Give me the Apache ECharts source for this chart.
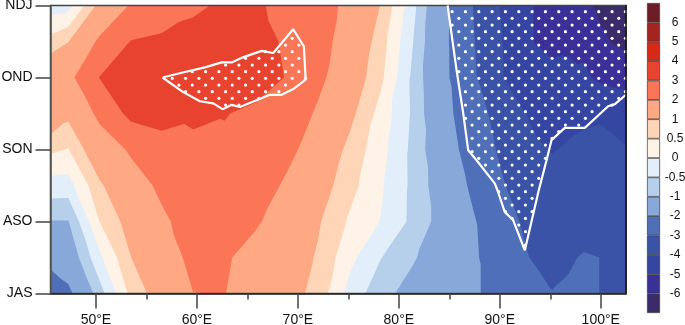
<!DOCTYPE html>
<html>
<head>
<meta charset="utf-8">
<style>html,body{margin:0;padding:0;background:#fff}#c{width:685px;height:325px}</style>
<script src="https://cdn.jsdelivr.net/npm/echarts@6/dist/echarts.min.js"></script>
</head>
<body>
<div id="c"></div>
<script>
// Data grid: longitude columns, season rows (t: 0=JAS ... 4=NDJ, half-steps between)
var lons = [45.5,47.26,50.35,53.45,56.54,59.63,62.73,65.82,68.92,72.01,75.1,78.2,81.29,84.39,87.48,90.57,93.67,95.21,96.76,98.32,99.85,102.5];
var rowT = [4,3.5,3,2.5,2,1.5,1,0.5,0];
var r40 = [-.25,-.2,1.17,2.07,2.35,2.83,3.15,3.1,2.79,2.35,1.8,.98,-.29,-1.76,-3.06,-4.23,-5.08,-5.3,-5.5,-5.75,-6.15,-6.7];
var r35 = [.72,.98,2.15,3.03,3.2,3.35,3.45,3.4,2.85,2.3,1.65,.74,-.44,-1.78,-2.98,-4.1,-5.09,-5.35,-5.25,-5.2,-5.8,-6.3];
var r30 = [1.55,1.75,3.02,3.35,3.6,3.65,3.65,3.5,2.95,2.2,1.44,.62,-.57,-1.77,-2.91,-4.05,-4.45,-4.6,-4.65,-4.85,-5.15,-5.3];
var r25 = [1.55,1.15,2.2,3.26,3.55,3.24,3.05,2.78,2.55,1.88,1.17,.32,-.55,-1.7,-2.62,-3.47,-4.3,-4.45,-4.3,-4.15,-4.1,-4.45];
var r20 = [.6,.48,1.52,2.1,2.4,2.7,2.8,2.7,2.25,1.55,.86,.18,-.6,-1.54,-2.45,-3.25,-3.85,-4.05,-3.9,-3.82,-3.75,-3.95];
var r15 = [-.2,-.22,.9,1.65,2.15,2.55,2.75,2.5,1.85,1.3,.68,.07,-.59,-1.37,-2.19,-3.0,-3.5,-3.62,-3.65,-3.62,-3.6,-3.7];
var r10 = [-1.02,-1.02,.5,1.25,1.88,2.3,2.55,2.1,1.58,1.06,.43,-.02,-.6,-1.25,-1.95,-2.72,-3.35,-3.5,-3.5,-3.45,-3.4,-3.5];
var r05 = [-1.7,-1.45,-.12,.99,1.6,2.2,2.1,1.7,1.34,.94,.15,-.48,-.92,-1.4,-1.91,-2.5,-3.16,-3.3,-3.12,-2.92,-3.0,-3.2];
var r00 = [-2.6,-2.2,-.72,.62,1.35,1.995,2.02,1.62,1.27,.8,-.18,-.81,-1.22,-1.56,-1.91,-2.35,-2.6,-2.97,-2.87,-2.85,-3.0,-3.2];
var rows = [r40,r35,r30,r25,r20,r15,r10,r05,r00];

var timeLabels = ['JAS','ASO','SON','OND','NDJ'];
var lonMajor = [50,60,70,80,90,100];
var lonMinor = [55,65,75,85,95];
var levels = [-6,-5,-4,-3,-2,-1,-0.5,0,0.5,1,2,3,4,5,6];
var levelColors = ['#3a2c6a','#3b2f98','#3445a2','#3a53a6','#4f6fb8','#87a8d8','#b6d0ec','#e2effa','#fff3e7','#fed6b7','#fea884','#fb7557','#e8432e','#d62a17','#a2261f','#6e1c28'];

// Significance outlines [lon, t]
var sigLeft = [[56.6,3.0],[58.6,3.07],[60.8,3.14],[62.45,3.21],[63.44,3.21],[64.56,3.28],[66.41,3.37],[67.56,3.34],[69.54,3.67],[70.6,3.43],[70.77,2.97],[69.54,2.84],[68.39,2.76],[67.23,2.76],[64.26,2.59],[63.44,2.62],[62.55,2.56],[61.62,2.64],[60.3,2.67],[58.6,2.8],[56.6,3.0]];
var sigRight = [[84.83,4],[85.72,3.1],[86.37,2.51],[86.87,1.99],[87.7,1.85],[89.5,1.53],[89.83,1.41],[90.5,1.13],[91.32,1.02],[92.48,0.6],[93.8,1.4],[94.63,1.85],[95.12,2.13],[96.44,2.3],[98.42,2.3],[100.73,2.6],[101.4,2.63],[102.5,2.76]];
var sigRightCorner = [[102.6,2.76],[102.6,4.1],[84.83,4.1]];

// Stipple pattern spacing (fill pattern of the significant areas)
var stipLon0 = 85.28, stipDLon = 1.32, stipT0 = 3.914, stipDT = 0.0926;

function inPoly(p, poly){
  var c=false;
  for(var i=0,j=poly.length-1;i<poly.length;j=i++){
    var a=poly[i],b=poly[j];
    if((a[1]>p[1])!==(b[1]>p[1]) && p[0]<(b[0]-a[0])*(p[1]-a[1])/(b[1]-a[1])+a[0]) c=!c;
  }
  return c;
}
var stipple=[];
var polyR = sigRight.concat(sigRightCorner);
for(var n=0;n<70;n++){
  var t=stipT0-n*stipDT;
  for(var m=-40;m<30;m++){
    var lon=stipLon0+m*stipDLon+(n%2?stipDLon/2:0);
    var p=[lon,t];
    if(lon<=102.6 && (inPoly(p,sigLeft)||inPoly(p,polyR))) stipple.push(p);
  }
}

function clipTri(tri, L){
  var out=[];
  for(var i=0;i<tri.length;i++){
    var a=tri[i],b=tri[(i+1)%tri.length];
    var ai=a[2]>=L,bi=b[2]>=L;
    if(ai) out.push(a);
    if(ai!==bi){
      var f=(L-a[2])/(b[2]-a[2]);
      out.push([a[0]+(b[0]-a[0])*f,a[1]+(b[1]-a[1])*f,L]);
    }
  }
  return out;
}
function bandPath(api, L){
  var d=[];
  function add(tri){
    var poly=clipTri(tri,L);
    if(poly.length<3) return;
    d.push('M'+poly.map(function(q){return q[0].toFixed(2)+' '+q[1].toFixed(2);}).join('L')+'Z');
  }
  for(var r=0;r<rows.length-1;r++){
    for(var c=0;c<lons.length-1;c++){
      var A=api.coord([lons[c],rowT[r]]),B=api.coord([lons[c+1],rowT[r]]),
          C=api.coord([lons[c+1],rowT[r+1]]),D=api.coord([lons[c],rowT[r+1]]);
      var a=[A[0],A[1],rows[r][c]],b=[B[0],B[1],rows[r][c+1]],cc=[C[0],C[1],rows[r+1][c+1]],dd=[D[0],D[1],rows[r+1][c]];
      if(Math.abs(a[2]-cc[2])<=Math.abs(b[2]-dd[2])){ add([a,b,cc]);add([a,cc,dd]); }
      else { add([a,b,dd]);add([b,cc,dd]); }
    }
  }
  return d.join('');
}
var series=[{
  type:'custom',xAxisIndex:0,yAxisIndex:0,z:1,silent:true,clip:true,animation:false,
  data:levelColors.map(function(c,i){return [i];}),
  encode:{x:-1,y:-1},
  renderItem:function(params,api){
    var i=params.dataIndex;
    var L=i===0?-Infinity:levels[i-1];
    return {type:'path',shape:{pathData:bandPath(api,L)},style:{fill:levelColors[i]},z2:i};
  }
},{
  type:'line',xAxisIndex:0,yAxisIndex:0,z:3,data:sigLeft,showSymbol:false,silent:true,animation:false,clip:true,
  lineStyle:{color:'#fff',width:2.2}
},{
  type:'line',xAxisIndex:0,yAxisIndex:0,z:3,data:sigRight,showSymbol:false,silent:true,animation:false,clip:true,
  lineStyle:{color:'#fff',width:2.2}
},{
  type:'scatter',xAxisIndex:0,yAxisIndex:0,z:4,data:stipple,symbolSize:3.2,silent:true,animation:false,clip:true,
  itemStyle:{color:'#fff',opacity:1}
}];
levelColors.forEach(function(c){
  series.push({type:'bar',xAxisIndex:2,yAxisIndex:2,stack:'cb',data:[1],barWidth:'100%',silent:true,animation:false,
    itemStyle:{color:c,borderColor:'#3a3a3a',borderWidth:0.7}});
});
var txt={color:'#111',fontFamily:'Liberation Sans',fontSize:14};
var chart=echarts.init(document.getElementById('c'),null,{renderer:'canvas'});
chart.setOption({
  animation:false,
  grid:[
    {left:50.5,top:5.5,width:575.5,height:288,outerBoundsMode:'none',show:true,backgroundColor:'transparent',borderColor:'#444',borderWidth:1.5,z:3},
    {left:647,top:3,width:13,height:310,outerBoundsMode:'none'}
  ],
  xAxis:[
    {type:'value',gridIndex:0,min:45.5,max:102.5,position:'bottom',z:5,splitLine:{show:false},
      axisLine:{show:true,lineStyle:{color:'#222',width:1.5}},
      axisTick:{show:true,length:15,customValues:lonMajor,lineStyle:{color:'#444',width:1.5}},
      axisLabel:{margin:20,customValues:lonMajor,formatter:function(v){return v+'°E';},color:txt.color,fontFamily:txt.fontFamily,fontSize:txt.fontSize}},
    {type:'value',gridIndex:0,min:45.5,max:102.5,position:'top',offset:-288,z:5,splitLine:{show:false},
      axisLine:{show:false},
      axisTick:{show:true,inside:true,length:6,customValues:lonMinor,lineStyle:{color:'#444',width:1.5}},
      axisLabel:{show:false}},
    {type:'category',gridIndex:1,data:['c'],show:false}
  ],
  yAxis:[
    {type:'value',gridIndex:0,min:0,max:4,interval:1,position:'left',z:5,splitLine:{show:false},
      axisLine:{show:true,lineStyle:{color:'#555',width:1.5}},
      axisTick:{show:true,length:15,lineStyle:{color:'#444',width:1.5}},
      axisLabel:{margin:18,formatter:function(v){return timeLabels[v];},color:txt.color,fontFamily:txt.fontFamily,fontSize:txt.fontSize}},
    {type:'value',gridIndex:0,min:0,max:4,position:'right',z:5,splitLine:{show:false},
      axisLine:{show:true,lineStyle:{color:'#111',width:1.5}},axisTick:{show:false},axisLabel:{show:false}},
    {type:'value',gridIndex:1,min:0,max:16,interval:1,position:'right',splitLine:{show:false},
      axisLine:{show:false},axisTick:{show:false},
      axisLabel:{margin:15,align:'center',formatter:function(v){return (v>=1&&v<=15)?String(levels[v-1]):'';},color:txt.color,fontFamily:txt.fontFamily,fontSize:12}}
  ],
  series:series
});
</script>
</body>
</html>
